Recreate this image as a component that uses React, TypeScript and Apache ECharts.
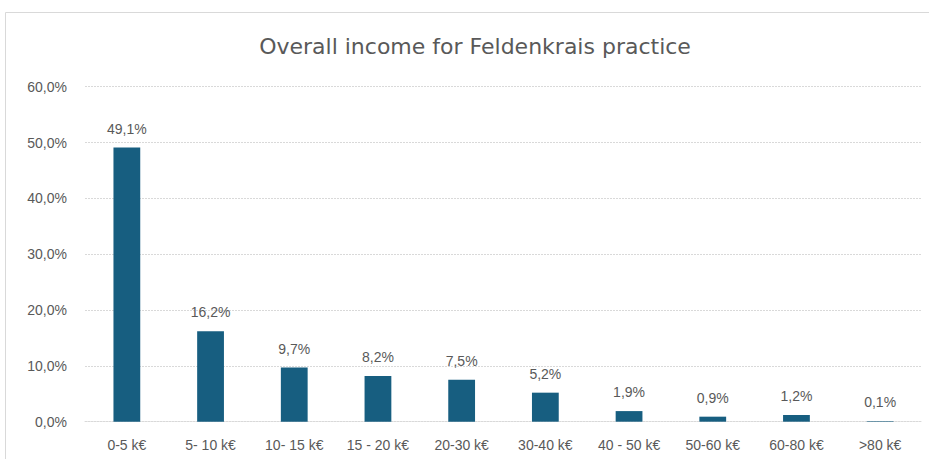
import React, { useEffect, useRef } from "react";
import * as echarts from "echarts";

const categories = ["0-5 k€", "5- 10 k€", "10- 15 k€", "15 - 20 k€", "20-30 k€", "30-40 k€", "40 - 50 k€", "50-60 k€", "60-80 k€", ">80 k€"];
const shares = [49.1, 16.2, 9.7, 8.2, 7.5, 5.2, 1.9, 0.9, 1.2, 0.1];
const titleText = "Overall income for Feldenkrais practice";

const fmt = (v: number) => v.toFixed(1).replace(".", ",") + "%";
const FONT = "'Liberation Sans', Arial, sans-serif";

export default function App() {
  const ref = useRef<HTMLDivElement>(null);
  useEffect(() => {
    if (!ref.current) return;
    const chart = echarts.init(ref.current, null, { renderer: "svg" });
    chart.setOption({
      animation: false,
      backgroundColor: "#ffffff",
      graphic: [
        {
          type: "rect",
          shape: { x: 5.5, y: 12.5, width: 940, height: 470 },
          style: { fill: "none", stroke: "#d9d9d9", lineWidth: 1 },
          silent: true,
        },
        {
          type: "text",
          x: 475,
          y: 46,
          style: {
            text: titleText,
            fontFamily: "'DejaVu Sans', sans-serif",
            fontSize: 22,
            fill: "#595959",
            align: "center",
            verticalAlign: "middle",
          },
          silent: true,
        },
      ],
      grid: { left: 85, right: 7, top: 86.7, bottom: 37.3 },
      xAxis: {
        type: "category",
        data: categories,
        axisLine: { show: true, lineStyle: { color: "#d9d9d9", type: [2, 1] } },
        axisTick: { show: false },
        axisLabel: { color: "#595959", fontFamily: FONT, fontSize: 14, margin: 16, interval: 0 },
      },
      yAxis: {
        type: "value",
        min: 0,
        max: 60,
        interval: 10,
        axisLine: { show: false },
        axisTick: { show: false },
        axisLabel: { color: "#595959", fontFamily: FONT, fontSize: 14, margin: 18, formatter: (v: number) => fmt(v) },
        splitLine: { lineStyle: { color: "#d9d9d9", type: [2, 1] } },
      },
      series: [
        {
          type: "bar",
          data: shares,
          barWidth: "32%",
          itemStyle: { color: "#175E80" },
          label: {
            show: true,
            position: "top",
            distance: 12,
            color: "#595959",
            fontFamily: FONT,
            fontSize: 14,
            formatter: (p: any) => fmt(p.value),
          },
        },
      ],
    });
    return () => chart.dispose();
  }, []);
  return <div ref={ref} style={{ position: "fixed", left: 0, top: 0, width: 929, height: 459 }} />;
}
